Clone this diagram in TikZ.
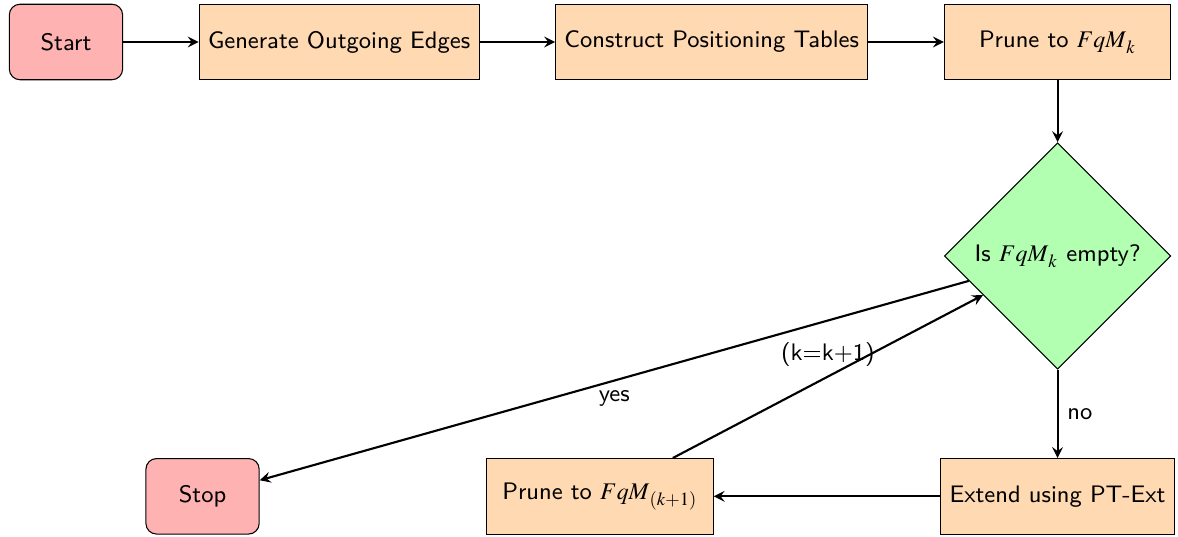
\documentclass[tikz,border=0pt]{standalone}
\usepackage{amsmath}
\usepackage{mathptmx}
\usepackage{tikz}
\usetikzlibrary{positioning, shapes.geometric}

\tikzset{
  startstop/.style={rectangle, rounded corners, minimum width=1.5cm, minimum height=1cm, text centered, draw=black, fill=red!30},
  process/.style={rectangle, minimum width=3cm, minimum height=1cm, text centered, draw=black, fill=orange!30},
  decision/.style={diamond, minimum width=3cm, minimum height=3cm, inner sep=0pt, text centered, draw=black, fill=green!30},
  arrow/.style={thick, ->, >=stealth}
}

\begin{document}
\begin{tikzpicture}[node distance=1cm, font=\sffamily\fontsize{9pt}{11pt}\selectfont]
    \useasboundingbox (-0.874,-6.556) rectangle (14.73,0.556);

    % Top row
    \node (start) [startstop] at (0,0) {Start};
    \node (gen) [process, right=1cm of start] {Generate Outgoing Edges};
    \node (cpt) [process, right=1cm of gen] {Construct Positioning Tables};
    \node (prunek) [process, right=1cm of cpt] {Prune to $\boldsymbol{FqM}_k$};

    % Test and loop
    \node (dec) [decision, below=0.82cm of prunek] {Is $\boldsymbol{FqM}_k$ empty?};
    \node (ext) [process, below=1.17cm of dec] {Extend using PT-Ext};
    \node (prunekk) [process, left=3cm of ext] {Prune to $\boldsymbol{FqM}_{(k+1)}$};
    \node (stop) [startstop, left=3cm of prunekk] {Stop};

    % Connectors
    \draw [arrow] (start) -- (gen);
    \draw [arrow] (gen) -- (cpt);
    \draw [arrow] (cpt) -- (prunek);
    \draw [arrow] (prunek) -- (dec);
    \draw [arrow] (dec) -- node[right] {no} (ext);
    \draw [arrow] (dec) -- node[below] {yes} (stop);
    \draw [arrow] (ext) -- (prunekk);
    \draw [arrow] (prunekk) -- node[above] {(k=k+1)} (dec);

\end{tikzpicture}
\end{document}
